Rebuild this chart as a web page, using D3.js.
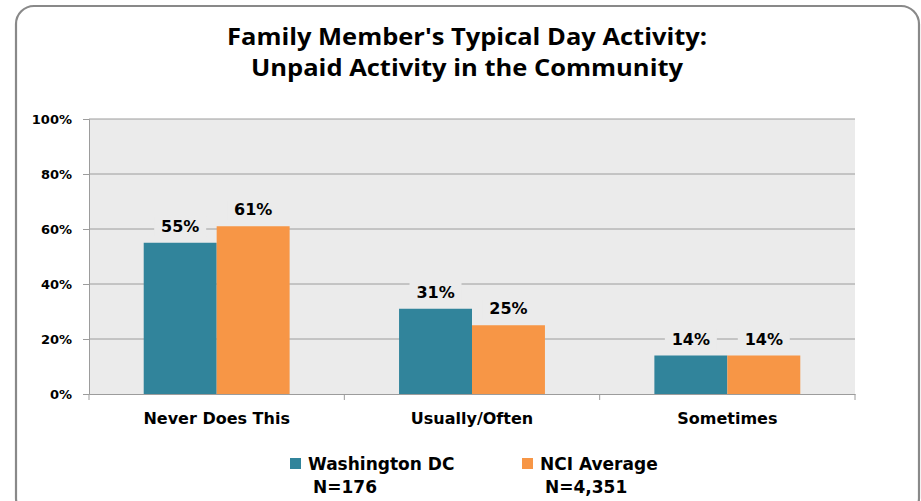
<!DOCTYPE html>
<html>
<head>
<meta charset="utf-8">
<script src="https://cdn.jsdelivr.net/npm/d3@7"></script>
<style>
  body { margin: 0; background: #fff; }
  svg { display: block; }
  text { font-family: "DejaVu Sans", Verdana, sans-serif; font-weight: bold; fill: #000; }
</style>
</head>
<body>
<script>
const width = 921;
const height = 501;

// Data
const categories = ["Never Does This", "Usually/Often", "Sometimes"];
const seriesNames = ["Washington DC", "NCI Average"];
const seriesN = ["N=176", "N=4,351"];
const washingtonDC = [55, 31, 14];
const nciAverage = [61, 25, 14];
const yTicks = [0, 20, 40, 60, 80, 100];
const colors = ["#31849b", "#f79646"];

const rows = categories.map((c, i) => ({cat: c, vals: [washingtonDC[i], nciAverage[i]]}));

const svg = d3.select("body")
  .append("svg")
  .attr("width", width)
  .attr("height", height);

// outer rounded frame
svg.append("rect")
  .attr("x", 16).attr("y", 6)
  .attr("width", 903).attr("height", 510)
  .attr("rx", 18)
  .attr("fill", "#fff")
  .attr("stroke", "#898989")
  .attr("stroke-width", 2.2);

// title (stretched a bit, the original face is wider than Open Sans)
const title = svg.append("text")
  .attr("text-anchor", "middle")
  .style("font-family", "'Open Sans', sans-serif")
  .style("font-size", "23px");
title.append("tspan").attr("x", 467).attr("y", 45)
  .attr("textLength", 480).attr("lengthAdjust", "spacingAndGlyphs")
  .text("Family Member's Typical Day Activity:");
title.append("tspan").attr("x", 467).attr("y", 76)
  .attr("textLength", 432).attr("lengthAdjust", "spacingAndGlyphs")
  .text("Unpaid Activity in the Community");

const plot = {left: 89, right: 855, top: 119, bottom: 394};

const x0 = d3.scaleBand()
  .domain(categories)
  .range([plot.left, plot.right]);

const x1 = d3.scaleBand()
  .domain([0, 1])
  .range([0, x0.bandwidth()])
  .paddingOuter(0.75);

const y = d3.scaleLinear()
  .domain([0, 100])
  .range([plot.bottom, plot.top]);

// plot background
svg.append("rect")
  .attr("x", plot.left).attr("y", plot.top)
  .attr("width", plot.right - plot.left)
  .attr("height", plot.bottom - plot.top)
  .attr("fill", "#ebebeb");

// gridlines
svg.append("g")
  .selectAll("line")
  .data(yTicks.filter(d => d > 0))
  .join("line")
  .attr("x1", plot.left).attr("x2", plot.right)
  .attr("y1", d => y(d)).attr("y2", d => y(d))
  .attr("stroke", "#9c9c9c")
  .attr("stroke-width", 1);

// y axis
const yAxis = svg.append("g")
  .attr("transform", `translate(${plot.left},0)`)
  .call(d3.axisLeft(y).tickValues(yTicks).tickFormat(d => d + "%").tickSize(6).tickPadding(11));
yAxis.select(".domain").attr("stroke", "#9c9c9c");
yAxis.selectAll(".tick line").attr("stroke", "#9c9c9c");
yAxis.selectAll("text")
  .style("font-size", "13px")
  .attr("font-family", null);

// x axis
const xAxis = svg.append("g")
  .attr("transform", `translate(0,${plot.bottom})`)
  .call(d3.axisBottom(x0).tickSize(0).tickPadding(19));
xAxis.select(".domain").attr("stroke", "#9c9c9c");
xAxis.selectAll("text")
  .style("font-size", "16px")
  .attr("font-family", null);
// category boundary ticks
xAxis.selectAll(".sep")
  .data([plot.left, ...categories.map(c => x0(c) + x0.bandwidth())])
  .join("line")
  .attr("class", "sep")
  .attr("x1", d => d).attr("x2", d => d)
  .attr("y1", 0).attr("y2", 6)
  .attr("stroke", "#9c9c9c");

// bars
const groups = svg.append("g")
  .selectAll("g")
  .data(rows)
  .join("g")
  .attr("transform", d => `translate(${x0(d.cat)},0)`);

groups.selectAll("rect")
  .data(d => d.vals.map((v, i) => ({v, i})))
  .join("rect")
  .attr("x", d => x1(d.i))
  .attr("width", x1.bandwidth())
  .attr("y", d => y(d.v))
  .attr("height", d => y(0) - y(d.v))
  .attr("fill", d => colors[d.i]);

// value labels with background knocking out the gridlines
const labels = groups.selectAll("g.lbl")
  .data(d => d.vals.map((v, i) => ({v, i})))
  .join("g")
  .attr("class", "lbl")
  .attr("transform", d => `translate(${x1(d.i) + x1.bandwidth() / 2},${y(d.v) - 11})`);

labels.append("rect")
  .attr("x", -26).attr("y", -15)
  .attr("width", 52).attr("height", 20)
  .attr("fill", "#ebebeb");

labels.append("text")
  .attr("text-anchor", "middle")
  .style("font-size", "16px")
  .text(d => d.v + "%");

// legend
const legendX = [290, 522];
const legend = svg.append("g")
  .selectAll("g")
  .data(seriesNames)
  .join("g")
  .attr("transform", (d, i) => `translate(${legendX[i]},458)`);

legend.append("rect")
  .attr("width", 11).attr("height", 11)
  .attr("fill", (d, i) => colors[i]);

legend.append("text")
  .attr("x", 18).attr("y", 12)
  .style("font-size", "17px")
  .text(d => d);

legend.append("text")
  .attr("x", 23).attr("y", 35)
  .style("font-size", "17px")
  .text((d, i) => seriesN[i]);
</script>
</body>
</html>
